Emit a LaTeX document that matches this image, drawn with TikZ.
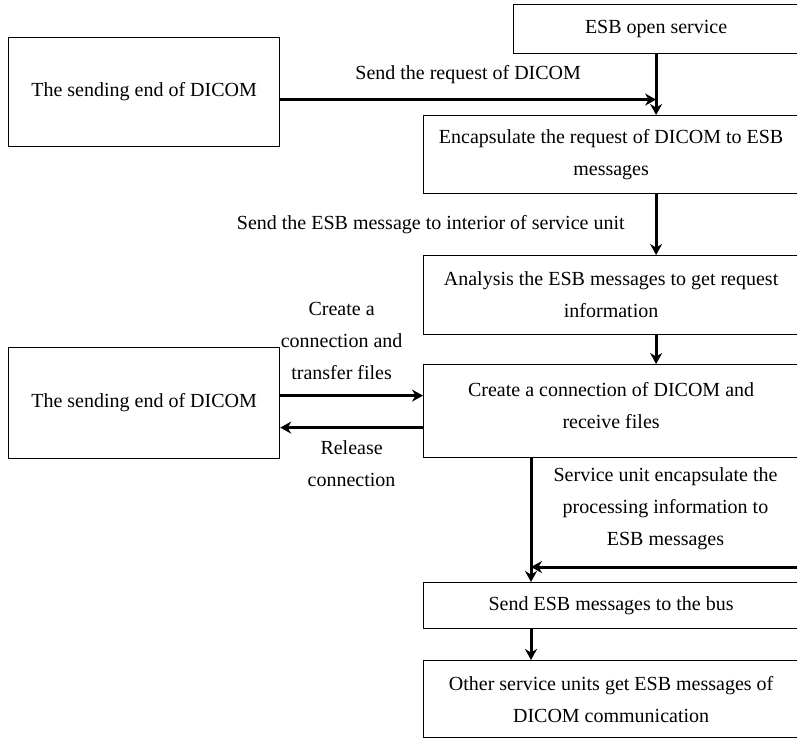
\documentclass[tikz,border=0pt]{standalone}
\usepackage{fontspec}
\setmainfont{Liberation Serif}
\usepackage{tikz}
\usetikzlibrary{arrows.meta, calc}

\begin{document}
\begin{tikzpicture}[x=1pt, y=-1pt, font=\fontsize{20}{32}\selectfont,
    box/.style={draw, rectangle, line width=1.2pt, align=center, inner sep=0pt, anchor=north west},
    arr/.style={-{Stealth[length=11pt, width=12pt]}, line width=3pt},
    lbl/.style={align=center, inner sep=0pt}]
      \clip (0,0) rectangle (797,738);

      % Nodes
      \node [box, minimum width=271pt, minimum height=109pt] (senda) at (8,37) {The sending end of DICOM};
      \node [box, minimum width=285pt, minimum height=49pt] (open) at (513,4) {ESB open service};
      \node [box, minimum width=375pt, minimum height=78pt] (enc) at (423,115) {Encapsulate the request of DICOM to ESB\\messages};
      \node [box, minimum width=375pt, minimum height=79pt] (ana) at (423,255) {Analysis the ESB messages to get request\\information};
      \node [box, minimum width=271pt, minimum height=111pt] (sendb) at (8,347) {The sending end of DICOM};
      \node [box, minimum width=375pt, minimum height=93pt, text depth=12pt] (create) at (423,364) {Create a connection of DICOM and\\receive files};
      \node [box, minimum width=375pt, minimum height=46pt] (bus) at (423,582) {Send ESB messages to the bus};
      \node [box, minimum width=375pt, minimum height=77pt] (other) at (423,660) {Other service units get ESB messages of\\DICOM communication};

      \coordinate (busin) at (800,567);
      \path ([xshift=108pt]create.south west) coordinate (drop);

      % Paths
      \draw[arr] (open.south) -- (open.south |- enc.north);
      \draw[arr] ([yshift=-7.5pt]senda.east) -- ([yshift=-7.5pt]senda.east -| open.south)
        node[lbl, midway, above=14pt] {Send the request of DICOM};
      \draw[arr] (open.south |- enc.south) -- (open.south |- ana.north)
        node[lbl, midway, left=30pt] {Send the ESB message to interior of service unit};
      \draw[arr] (open.south |- ana.south) -- (open.south |- create.north);
      \draw[arr] ([yshift=7.5pt]sendb.east) -- ([yshift=7.5pt]sendb.east -| create.west)
        node[lbl, midway, above=14pt, xshift=-10pt] {Create a\\connection and\\transfer files};
      \draw[arr] ([yshift=-24.5pt]sendb.east -| create.west) -- ([yshift=-24.5pt]sendb.east)
        node[lbl, midway, below=12pt] {Release\\connection};
      \draw[arr] (drop) -- (drop |- bus.north);
      \draw[arr] (busin) -- (busin -| drop)
        node[lbl, midway, above=16pt] {Service unit encapsulate the\\processing information to\\ESB messages};
      \draw[arr] (drop |- bus.south) -- (drop |- other.north);
    \end{tikzpicture}
\end{document}
